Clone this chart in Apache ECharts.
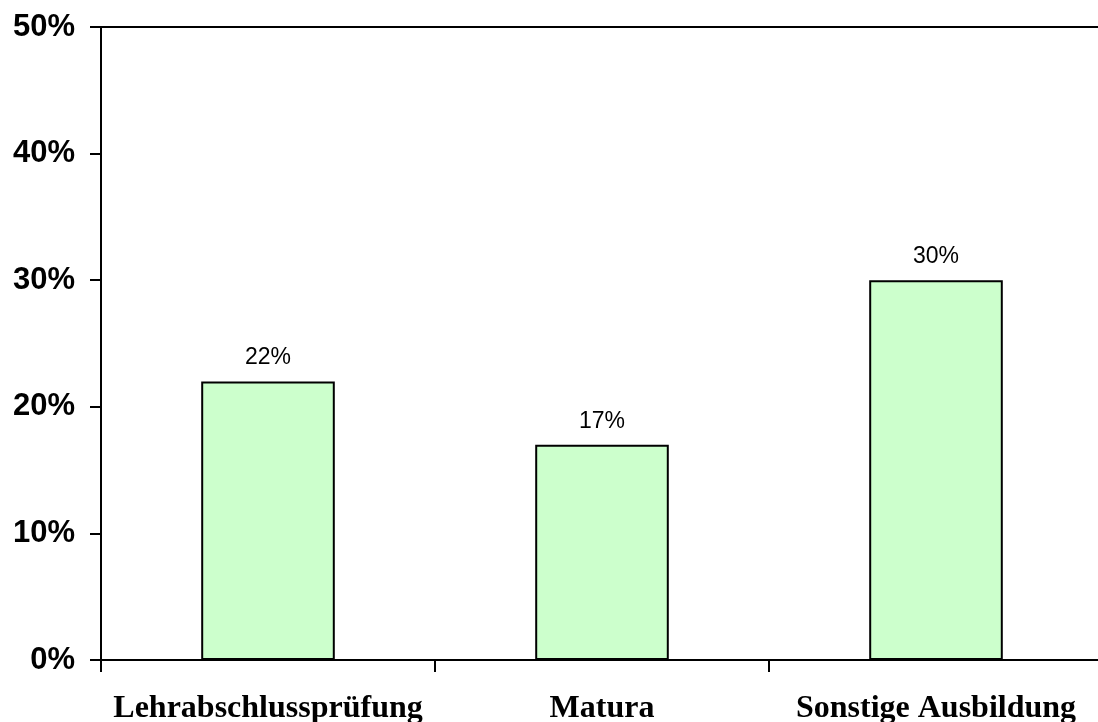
<!DOCTYPE html>
<html>
<head>
<meta charset="utf-8">
<script src="https://cdn.jsdelivr.net/npm/echarts@6/dist/echarts.min.js"></script>
<style>
  html, body { margin: 0; padding: 0; background: #ffffff; }
  #chart { width: 1098px; height: 722px; }
</style>
</head>
<body>
<div id="chart"></div>
<script>
// Share per education level, in percent
const categories = ['Lehrabschlussprüfung', 'Matura', 'Sonstige Ausbildung'];
const shares = [22, 17, 30];
const yTicks = [0, 10, 20, 30, 40, 50];

const chart = echarts.init(document.getElementById('chart'), null, { renderer: 'canvas' });

const axisLine = { show: true, lineStyle: { color: '#000000', width: 2 } };

chart.setOption({
  animation: false,
  backgroundColor: '#ffffff',
  // plot area runs slightly past the right edge of the canvas
  grid: { left: 101, width: 1002, top: 27, bottom: 62, outerBoundsMode: 'none', containLabel: false },
  xAxis: [
    {
      type: 'category',
      data: categories,
      position: 'bottom',
      boundaryGap: true,
      axisLine: axisLine,
      axisTick: { show: true, alignWithLabel: false, length: 12, inside: false,
                  lineStyle: { color: '#000000', width: 2 } },
      axisLabel: {
        interval: 0,
        hideOverlap: false,
        margin: 33,
        color: '#000000',
        fontFamily: '"Liberation Serif", "Times New Roman", serif',
        fontWeight: 'bold',
        fontSize: 32
      },
      splitLine: { show: false }
    },
    {
      // frame line along the top of the plot
      type: 'category',
      data: categories,
      position: 'top',
      axisLine: axisLine,
      axisTick: { show: false },
      axisLabel: { show: false },
      splitLine: { show: false }
    }
  ],
  yAxis: {
    type: 'value',
    min: yTicks[0],
    max: yTicks[yTicks.length - 1],
    interval: yTicks[1] - yTicks[0],
    axisLine: axisLine,
    axisTick: { show: true, length: 11, lineStyle: { color: '#000000', width: 2 } },
    axisLabel: {
      margin: 26,
      color: '#000000',
      fontFamily: '"Liberation Sans", Arial, sans-serif',
      fontWeight: 'bold',
      fontSize: 31,
      formatter: v => v + '%'
    },
    splitLine: { show: false }
  },
  series: [{
    type: 'bar',
    data: shares,
    barWidth: '40%',
    itemStyle: { color: '#ccffcc', borderColor: '#000000', borderWidth: 2 },
    label: {
      show: true,
      position: 'top',
      distance: 12,
      color: '#000000',
      fontFamily: '"Liberation Sans", Arial, sans-serif',
      fontSize: 23,
      formatter: p => p.value + '%'
    }
  }]
});
</script>
</body>
</html>
